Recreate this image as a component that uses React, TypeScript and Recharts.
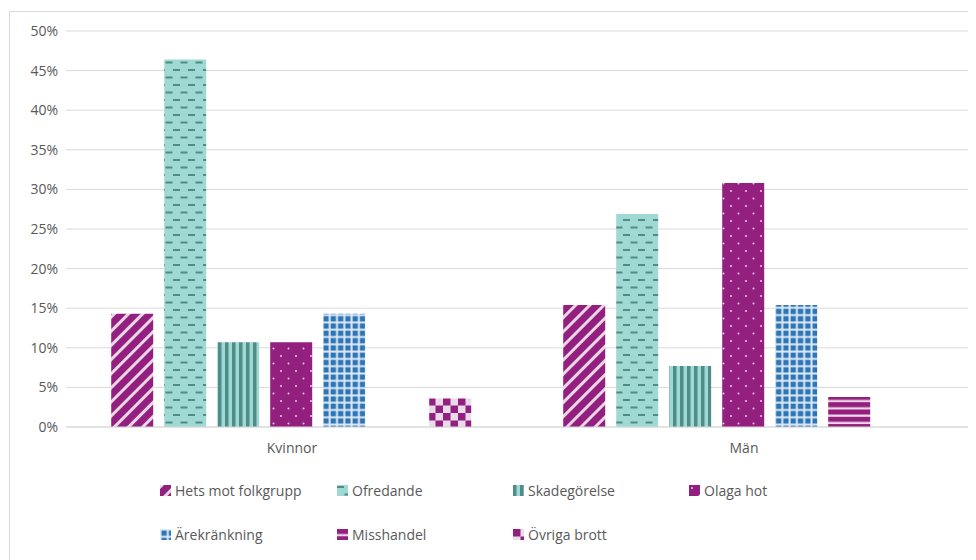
import React from 'react';
import { BarChart, Bar, XAxis, YAxis, CartesianGrid, Legend } from 'recharts';

const categories = ['Kvinnor', 'Män'];
const hets = [14.3, 15.4];
const ofredande = [46.4, 26.9];
const skadegorelse = [10.7, 7.7];
const olagaHot = [10.7, 30.8];
const arekrankning = [14.3, 15.4];
const misshandel = [0, 3.8];
const ovrigaBrott = [3.6, 0];
const yTicks = [0, 5, 10, 15, 20, 25, 30, 35, 40, 45, 50];

const seriesNames = ['Hets mot folkgrupp', 'Ofredande', 'Skadegörelse', 'Olaga hot', 'Ärekränkning', 'Misshandel', 'Övriga brott'];
const seriesKeys = ['hets', 'ofredande', 'skade', 'olaga', 'arek', 'missh', 'ovriga'];
const seriesValues = [hets, ofredande, skadegorelse, olagaHot, arekrankning, misshandel, ovrigaBrott];

const data = categories.map((c, i) => {
  const row: any = { name: c };
  seriesKeys.forEach((k, j) => { row[k] = seriesValues[j][i]; });
  return row;
});

const PURPLE = '#93207F';
const PURPLE_LIGHT = '#EAD6E7';
const TEAL = '#A0D9D3';
const TEAL_DARK = '#4E8D88';
const BLUE = '#2E75B6';
const BLUE_LIGHT = '#DDE9F5';
const TEXT = '#595959';
const GRID = '#D9D9D9';
const FONT = '"Open Sans", "Liberation Sans", sans-serif';

const Patterns = () => (
  <defs>
    <pattern id="p-hets" patternUnits="userSpaceOnUse" width="10" height="10" patternTransform="rotate(45)">
      <rect x="0" y="0" width="10" height="10" fill={PURPLE} />
      <rect x="0" y="0" width="3" height="10" fill={PURPLE_LIGHT} />
    </pattern>
    <pattern id="p-ofredande" patternUnits="userSpaceOnUse" width="15" height="15">
      <rect x="0" y="0" width="15" height="15" fill={TEAL} />
      <rect x="0" y="1" width="7" height="2" fill={TEAL_DARK} />
      <rect x="7.5" y="8.5" width="7" height="2" fill={TEAL_DARK} />
    </pattern>
    <pattern id="p-skade" patternUnits="userSpaceOnUse" width="7" height="7">
      <rect x="0" y="0" width="7" height="7" fill={TEAL} />
      <rect x="0" y="0" width="3" height="7" fill={TEAL_DARK} />
      <rect x="3" y="0" width="1" height="7" fill="#75B3AD" />
    </pattern>
    <pattern id="p-olaga" patternUnits="userSpaceOnUse" width="15" height="15">
      <rect x="0" y="0" width="15" height="15" fill={PURPLE} />
      <circle cx="3" cy="3" r="1" fill="#E9C9E4" />
      <circle cx="10.5" cy="10.5" r="1" fill="#E9C9E4" />
    </pattern>
    <pattern id="p-arek" patternUnits="userSpaceOnUse" width="7.3" height="7.3">
      <rect x="0" y="0" width="7.3" height="7.3" fill={BLUE_LIGHT} />
      <rect x="1.5" y="1.5" width="5.3" height="5.3" fill={BLUE} />
    </pattern>
    <pattern id="p-missh" patternUnits="userSpaceOnUse" width="7.3" height="7.3">
      <rect x="0" y="0" width="7.3" height="7.3" fill={PURPLE} />
      <rect x="0" y="5" width="7.3" height="2.3" fill={PURPLE_LIGHT} />
    </pattern>
    <pattern id="p-ovriga" patternUnits="userSpaceOnUse" width="15" height="15">
      <rect x="0" y="0" width="15" height="15" fill="#E8DCEB" />
      <rect x="0" y="0" width="7.5" height="7.5" fill={PURPLE} />
      <rect x="7.5" y="7.5" width="7.5" height="7.5" fill={PURPLE} />
    </pattern>
  </defs>
);

const legendCols = [152, 329, 505, 681];

const LegendContent = () => (
  <div style={{ position: 'relative', width: 968, height: 70, fontFamily: FONT, fontSize: 14, color: TEXT }}>
    {seriesNames.map((n, i) => {
      const col = i % 4;
      const row = Math.floor(i / 4);
      return (
        <div key={n} style={{ position: 'absolute', left: legendCols[col], top: row * 44, display: 'flex', alignItems: 'center', whiteSpace: 'nowrap', height: 18 }}>
          <svg width="11" height="11" style={{ marginRight: 4 }}>
            <rect x="0" y="0" width="11" height="11" fill={`url(#p-${seriesKeys[i]})`} />
          </svg>
          <span>{n}</span>
        </div>
      );
    })}
  </div>
);

export default function App() {
  return (
    <div style={{ position: 'relative', width: 968, height: 552, overflow: 'hidden' }}>
      <div style={{ position: 'absolute', left: 1, top: 3, width: 967, height: 549, borderTop: `1px solid ${GRID}`, borderLeft: `1px solid ${GRID}`, boxSizing: 'border-box' }} />
      <div style={{ position: 'absolute', left: 0, top: 0 }}>
        <BarChart
          width={968}
          height={552}
          data={data}
          margin={{ top: 23, right: 6, bottom: 23, left: 0 }}
          barCategoryGap="10%"
          barGap={11}
        >
          <Patterns />
          <CartesianGrid vertical={false} stroke={GRID} strokeWidth={1} />
          <XAxis
            dataKey="name"
            tickLine={false}
            axisLine={{ stroke: GRID }}
            height={30}
            tickMargin={10}
            tick={{ fill: TEXT, fontSize: 14, fontFamily: FONT }}
          />
          <YAxis
            width={58}
            domain={[0, 50]}
            ticks={yTicks}
            tickFormatter={(v: number) => `${v}%`}
            tickLine={false}
            axisLine={false}
            tick={{ fill: TEXT, fontSize: 14, fontFamily: FONT }}
          />
          <Legend
            verticalAlign="bottom"
            height={80}
            content={<LegendContent />}
            wrapperStyle={{ top: 473, left: 0, bottom: 'auto', width: 968 }}
          />
          {seriesKeys.map((k, i) => (
            <Bar key={k} dataKey={k} name={seriesNames[i]} fill={`url(#p-${k})`} isAnimationActive={false} />
          ))}
        </BarChart>
      </div>
    </div>
  );
}
